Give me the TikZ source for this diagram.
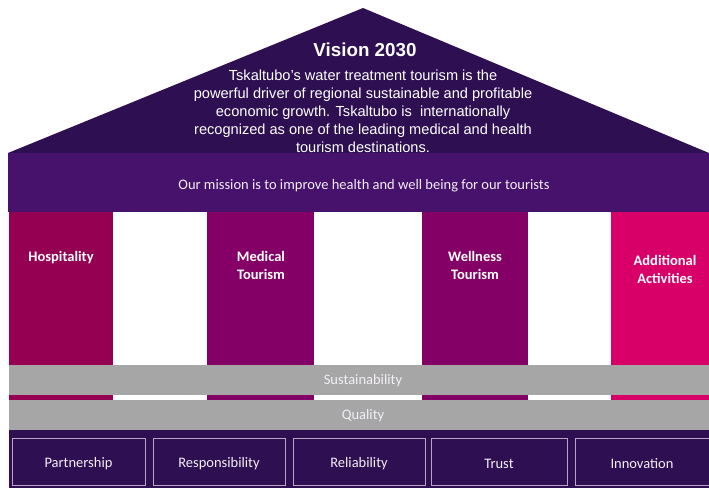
\documentclass[tikz,border=0pt]{standalone}
\usepackage{fontspec}
\setmainfont{Liberation Sans}
\newfontfamily\calib{Carlito}
\definecolor{roofc}{HTML}{2E1052}
\definecolor{missionc}{HTML}{46126B}
\definecolor{hospc}{HTML}{950052}
\definecolor{medc}{HTML}{850066}
\definecolor{addc}{HTML}{D80068}
\definecolor{grayc}{HTML}{A6A6A6}
\definecolor{boxline}{HTML}{B4A6C4}
\definecolor{lighttext}{HTML}{F2EEF6}
\begin{document}
\begin{tikzpicture}[x=1pt,y=-1pt,
  pillarlabel/.style={text=white,font=\calib\bfseries\fontsize{14.5}{18}\selectfont,align=center,anchor=north},
  bandlabel/.style={text=lighttext,font=\calib\fontsize{14.5}{17}\selectfont},
  valuebox/.style={draw=boxline,line width=0.8pt,fill=roofc,inner sep=0pt},
  valuetext/.style={text=lighttext,font=\calib\fontsize{14.5}{17}\selectfont}]
\useasboundingbox (0,0) rectangle (709,488);
% roof
\fill[roofc] (8,153) -- (363,8) -- (709,153) -- cycle;
\node[text=white,font=\bfseries\fontsize{18.8}{22}\selectfont] (vision) at (365,50) {Vision 2030};
\node[text=white,font=\fontsize{14.6}{18}\selectfont,align=center,anchor=north] (visiontext) at (363,66)
 {Tskaltubo’s water treatment tourism is the\\
  powerful driver of regional sustainable and profitable\\
  economic growth. Tskaltubo is \ internationally\\
  recognized as one of the leading medical and health\\
  tourism destinations.};
% mission band
\fill[missionc] (8,153) rectangle (709,212);
\node[bandlabel] (mission) at (364,186) {Our mission is to improve health and well being for our tourists};
% pillars
\fill[hospc] (9,212) rectangle (113,430);
\fill[medc] (207,212) rectangle (314,430);
\fill[medc] (422,212) rectangle (528,430);
\fill[addc] (611,212) rectangle (709,430);
\node[pillarlabel] (hosp) at (61,248) {Hospitality};
\node[pillarlabel] (med) at (261,248) {Medical\\Tourism};
\node[pillarlabel] (well) at (475,248) {Wellness\\Tourism};
\node[pillarlabel] (add) at (665,252) {Additional\\Activities};
% bands
\fill[grayc] (9,365) rectangle (709,395);
\fill[grayc] (9,400) rectangle (709,430);
\node[bandlabel] (sust) at (363,381) {Sustainability};
\node[bandlabel] (qual) at (363,416) {Quality};
% base
\fill[roofc] (9,430) rectangle (709,488);
\node[valuebox,minimum width=133pt,minimum height=47pt] (b1) at (78.5,461.5) {};
\node[valuebox,minimum width=132pt,minimum height=47pt] (b2) at (219,461.5) {};
\node[valuebox,minimum width=132pt,minimum height=47pt] (b3) at (359,461.5) {};
\node[valuebox,minimum width=136pt,minimum height=47pt] (b4) at (499,461.5) {};
\node[valuebox,minimum width=134pt,minimum height=47pt] (b5) at (642,461.5) {};
\node[valuetext] (t1) at ([yshift=-2.5pt]b1.center) {Partnership};
\node[valuetext] (t2) at ([yshift=-2.5pt]b2.center) {Responsibility};
\node[valuetext] (t3) at ([yshift=-2.5pt]b3.center) {Reliability};
\node[valuetext] (t4) at ([yshift=-2.5pt]b4.center) {Trust};
\node[valuetext] (t5) at ([yshift=-2.5pt]b5.center) {Innovation};
\end{tikzpicture}
\end{document}
